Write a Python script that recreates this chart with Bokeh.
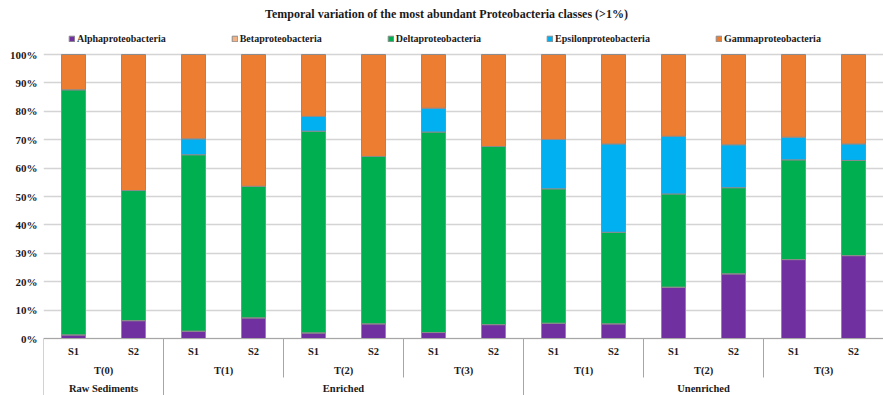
from bokeh.plotting import figure
from bokeh.models import Range1d, FixedTicker, Legend, LegendItem, Label, ColumnDataSource
from bokeh.core.properties import value
from bokeh.embed import file_html
from bokeh.resources import INLINE

# --- data -------------------------------------------------------------------
classes = ["Alphaproteobacteria", "Betaproteobacteria", "Deltaproteobacteria",
           "Epsilonproteobacteria", "Gammaproteobacteria"]
colors = ["#7030A0", "#F4B183", "#00B050", "#00B0F0", "#ED7D31"]

samples = ["S1", "S2"] * 7
times = ["T(0)", "T(1)", "T(2)", "T(3)", "T(1)", "T(2)", "T(3)"]
treatments = ["Raw Sediments", "Enriched", "Unenriched"]
treatment_sizes = [1, 3, 3]  # time points per treatment

# relative abundance (%) per sample, bottom to top of each stack
alpha = [1.3, 6.3, 2.6, 7.3, 2.0, 5.2, 2.1, 4.9, 5.4, 5.2, 18.1, 22.8, 27.8, 29.2]
beta = [0.0, 0.0, 0.0, 0.0, 0.0, 0.0, 0.0, 0.0, 0.0, 0.0, 0.0, 0.0, 0.0, 0.0]
delta = [86.3, 45.8, 62.1, 46.3, 71.0, 58.9, 70.6, 62.7, 47.3, 32.2, 32.8, 30.3, 35.1, 33.5]
epsilon = [0.0, 0.0, 5.6, 0.0, 5.2, 0.0, 8.4, 0.0, 17.4, 31.1, 20.3, 15.1, 8.0, 5.8]
gamma = [12.4, 47.9, 29.7, 46.4, 21.8, 35.9, 18.9, 32.4, 29.9, 31.5, 28.8, 31.8, 29.1, 31.5]

yticks = [0, 10, 20, 30, 40, 50, 60, 70, 80, 90, 100]

# --- layout constants ---------------------------------------------------------
W, H = 883, 395
LEFT = 43
PX = 2.84          # pixels per percent
ZERO_Y = 338       # screen row of 0 %
Y_BOTTOM = -(H - ZERO_Y) / PX
Y_TOP = (ZERO_Y) / PX

FONT = value("Liberation Serif")
n = len(samples)
xs = [i + 0.5 for i in range(n)]

src = ColumnDataSource(dict(x=xs, alpha=alpha, beta=beta, delta=delta,
                            epsilon=epsilon, gamma=gamma))
keys = ["alpha", "beta", "delta", "epsilon", "gamma"]

p = figure(width=W, height=H, title=None, output_backend="svg", toolbar_location=None,
           x_range=Range1d(0, n), y_range=Range1d(Y_BOTTOM, Y_TOP),
           x_axis_location=None, min_border_left=LEFT, min_border_right=0,
           min_border_top=0, min_border_bottom=0)
p.outline_line_color = None
p.background_fill_color = "white"
p.border_fill_color = "white"

# y axis
p.yaxis.ticker = FixedTicker(ticks=yticks)
p.yaxis.major_label_overrides = {t: f"{t}%" for t in yticks}
p.yaxis.axis_line_color = None
p.yaxis.major_tick_line_color = None
p.yaxis.minor_tick_line_color = None
p.yaxis.major_tick_out = 0
p.yaxis.major_label_standoff = 6
p.yaxis.major_label_text_font = "Liberation Serif"
p.yaxis.major_label_text_font_style = "bold"
p.yaxis.major_label_text_font_size = "11px"
p.yaxis.major_label_text_color = "#1a1a1a"
p.ygrid.ticker = FixedTicker(ticks=yticks)
p.ygrid.grid_line_color = "#D4D4D4"
p.ygrid.grid_line_width = 1.5
p.xgrid.grid_line_color = None

# stacked bars
renderers = p.vbar_stack(keys, x="x", width=0.4, source=src, color=colors,
                         line_color="#8C8C8C", line_width=1)
for r, c in zip(renderers, colors):
    r.glyph.fill_color = c
    r.glyph.line_color = "#8C8C8C"

# category axis: baseline and separators
p.segment(x0=[0], y0=[0], x1=[n], y1=[0], line_color="#A6A6A6", line_width=1)

t_row_bottom = -(377 - ZERO_Y) / PX
treat_edges = [0]
for s in treatment_sizes:
    treat_edges.append(treat_edges[-1] + 2 * s)
time_edges = list(range(0, n + 1, 2))
sx0, sy0, sx1, sy1 = [], [], [], []
for e in time_edges:
    sx0.append(e); sx1.append(e); sy0.append(0)
    sy1.append(Y_BOTTOM if e in treat_edges else t_row_bottom)
p.segment(x0=sx0, y0=sy0, x1=sx1, y1=sy1, line_color="#A6A6A6", line_width=1)

s_row = -(351 - ZERO_Y) / PX
t_row = -(370 - ZERO_Y) / PX
g_row = -(388 - ZERO_Y) / PX

label_kw = dict(text_font=FONT, text_font_style="bold", text_font_size="10.5px",
                text_align="center", text_baseline="middle", text_color="#1a1a1a")
p.text(x=xs, y=[s_row] * n, text=samples, **label_kw)
p.text(x=[2 * i + 1 for i in range(len(times))], y=[t_row] * len(times), text=times, **label_kw)
p.text(x=[(treat_edges[i] + treat_edges[i + 1]) / 2 for i in range(len(treatments))],
       y=[g_row] * len(treatments), text=treatments, **label_kw)

# title
title = Label(x=(446 - LEFT) / 60, y=(ZERO_Y - 13) / PX,
              text="Temporal variation of the most abundant Proteobacteria classes (>1%)",
              text_font="Liberation Serif", text_font_style="bold", text_font_size="12px",
              text_align="center", text_baseline="middle", text_color="#1a1a1a")
p.add_layout(title)

# legend
legend = Legend(items=[LegendItem(label=c, renderers=[r]) for c, r in zip(classes, renderers)],
                orientation="horizontal", location=(68 - LEFT, H - 48),
                glyph_width=7, glyph_height=7, label_standoff=2, spacing=65,
                padding=0, margin=0, border_line_color=None,
                background_fill_alpha=0, label_height=20,
                label_text_font="Liberation Serif", label_text_font_style="bold",
                label_text_font_size="10px", label_text_color="#1a1a1a")
p.add_layout(legend)

open("out.html", "w").write(file_html(p, INLINE))
